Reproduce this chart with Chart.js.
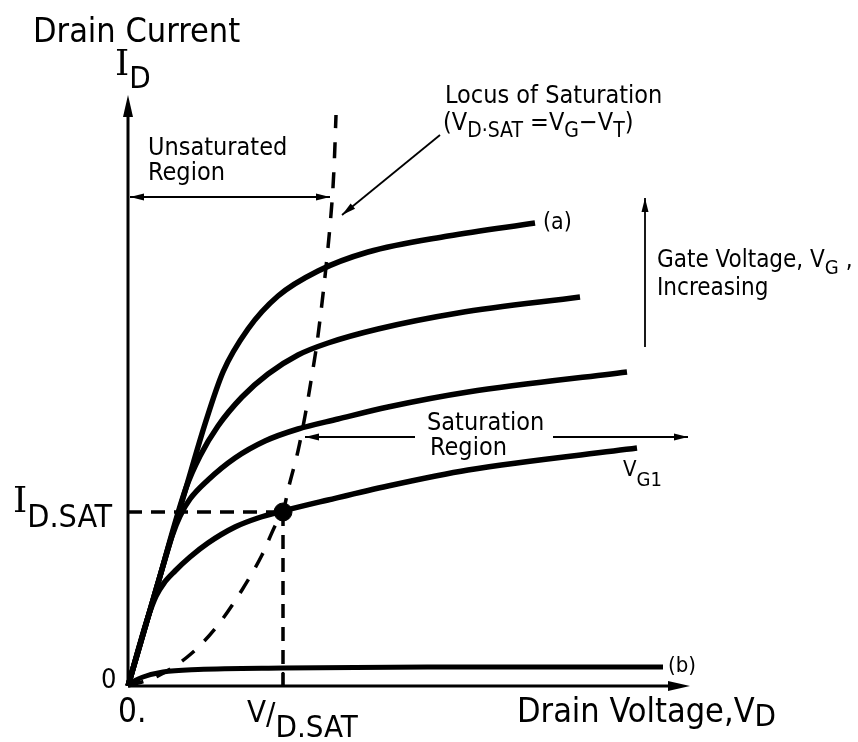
<!DOCTYPE html>
<html>
<head>
<meta charset="utf-8">
<script src="https://cdn.jsdelivr.net/npm/chart.js@4"></script>
<style>
  html, body { margin: 0; padding: 0; background: #fff; }
  canvas { display: block; }
</style>
</head>
<body>
<canvas id="chart" width="858" height="742"></canvas>
<script>
// values: x = drain voltage, y = drain current (arbitrary units)
const curveA   = [[0,0],[30,103],[58,198],[77,262],[95,314],[120,357],[150,390],[190,415],[240,434],[320,450],[407,463]];
const curve2   = [[0,0],[30,103],[58,198],[72,230],[90,260],[114,289],[140,312],[170,331],[200,343],[250,357],[330,373],[452,389]];
const curve3   = [[0,0],[30,103],[44,150],[52,170],[62,187],[80,206],[107,228],[137,245],[170,257],[210,267],[260,279],[340,294],[499,314]];
const curveVG1 = [[0,0],[20,69],[28,90],[36,103],[47,115],[62,129],[80,143],[107,159],[130,168],[155,175],[200,186],[260,200],[340,216],[509,238]];
const curveB   = [[0,2],[15,9],[35,14],[70,16.5],[155,18],[300,19],[535,19]];
const locus    = [[0,0],[30,10],[64,33],[90,61],[114,96],[134,131],[147,160],[155,174],[161,200],[170,235],[177,270],[183,305],[189,343],[194,383],[198,419],[202,460],[205,499],[206.5,529],[208,571]];
const satPoint = [155, 174];   // V_D.SAT, I_D.SAT

const xMax = 560, yMax = 590;

const FONT = "'DejaVu Sans Condensed', 'Liberation Sans Narrow', sans-serif";
const SERIF = "'DejaVu Serif', serif";

// text labels (data units, left / baseline)
const labels = [
  { x: -95, y: 644, size: 34, parts: [['Drain Current', 1, 0]] },
  { x: -13, y: 611, size: 36, parts: [['I', 1, 0, SERIF], ['D', 0.86, 0.36]] },
  { x: 20, y: 531, size: 25, parts: [['Unsaturated', 1, 0]] },
  { x: 20, y: 506, size: 25, parts: [['Region', 1, 0]] },
  { x: 317, y: 583, size: 24.5, parts: [['Locus of Saturation', 1, 0]] },
  { x: 315, y: 556, size: 24.5, parts: [['(V', 1, 0], ['D·SAT', 0.85, 0.3], [' =V', 1, 0], ['G', 0.85, 0.3], ['−V', 1, 0], ['T', 0.85, 0.3], [')', 1, 0]] },
  { x: 415, y: 457, size: 23, parts: [['(a)', 1, 0]] },
  { x: 529, y: 419, size: 24, parts: [['Gate Voltage, V', 1, 0], ['G', 0.85, 0.3], [' ,', 1, 0]] },
  { x: 529, y: 391, size: 24, parts: [['Increasing', 1, 0]] },
  { x: 299, y: 256, size: 24.5, parts: [['Saturation', 1, 0]] },
  { x: 302, y: 231, size: 24.5, parts: [['Region', 1, 0]] },
  { x: 495, y: 210, size: 22, parts: [['V', 1, 0], ['G1', 0.9, 0.45]] },
  { x: 540, y: 14, size: 22, parts: [['(b)', 1, 0]] },
  { x: 389, y: -36, size: 34, parts: [['Drain Voltage,V', 1, 0], ['D', 0.9, 0.12]] },
  { x: -27, y: -2, size: 27, parts: [['0', 1, 0]] },
  { x: -10, y: -36, size: 33, parts: [['0.', 1, 0]] },
  { x: -115, y: 174, size: 36, parts: [['I', 1, 0, SERIF], ['D.SAT', 0.9, 0.42]] },
  { x: 119, y: -36, size: 31, parts: [['V', 1, 0], ['/', 1, 0.08], ['D.SAT', 1, 0.48]] }
];

// arrows (data units): from -> to, heads at 'end' or 'both'
const arrows = [
  { from: [2, 489], to: [202, 489], heads: 'both' },
  { from: [312, 551], to: [214, 471], heads: 'end' },
  { from: [517, 339], to: [517, 488], heads: 'end' },
  { from: [287, 249], to: [177, 249], heads: 'end' },
  { from: [425, 249], to: [560, 249], heads: 'end' }
];

const toXY = arr => arr.map(p => ({ x: p[0], y: p[1] }));

const solid = (data) => ({
  data: toXY(data),
  borderColor: '#000',
  borderWidth: 5.5,
  pointRadius: 0,
  cubicInterpolationMode: 'monotone',
  clip: false
});

function arrowHead(ctx, x1, y1, x2, y2, len, half) {
  const a = Math.atan2(y2 - y1, x2 - x1);
  ctx.beginPath();
  ctx.moveTo(x2, y2);
  ctx.lineTo(x2 - len * Math.cos(a) + half * Math.sin(a), y2 - len * Math.sin(a) - half * Math.cos(a));
  ctx.lineTo(x2 - len * Math.cos(a) - half * Math.sin(a), y2 - len * Math.sin(a) + half * Math.cos(a));
  ctx.closePath();
  ctx.fill();
}

function drawParts(ctx, x, y, size, parts) {
  let cx = x;
  for (const [txt, k, dy, fam] of parts) {
    ctx.font = Math.round(size * k) + 'px ' + (fam || FONT);
    ctx.fillText(txt, cx, y + dy * size);
    cx += ctx.measureText(txt).width;
  }
}

const decorations = {
  id: 'decorations',
  afterDatasetsDraw(chart) {
    const { ctx, scales: { x, y } } = chart;
    const px = v => x.getPixelForValue(v);
    const py = v => y.getPixelForValue(v);
    ctx.save();
    ctx.fillStyle = '#000';
    ctx.strokeStyle = '#000';

    // axes
    ctx.lineWidth = 3;
    ctx.beginPath();
    ctx.moveTo(px(0), py(0));
    ctx.lineTo(px(xMax) - 10, py(0));
    ctx.moveTo(px(0), py(0));
    ctx.lineTo(px(0), py(yMax) + 10);
    ctx.stroke();
    arrowHead(ctx, px(0), py(0), px(xMax + 2), py(0), 22, 5);
    arrowHead(ctx, px(0), py(0), px(0), py(yMax + 1), 22, 5);

    // small tick at V_D.SAT
    ctx.lineWidth = 2.5;
    ctx.beginPath();
    ctx.moveTo(px(satPoint[0]), py(0));
    ctx.lineTo(px(satPoint[0]), py(0) - 14);
    ctx.stroke();

    // annotation arrows
    ctx.lineWidth = 1.8;
    for (const a of arrows) {
      const x1 = px(a.from[0]), y1 = py(a.from[1]);
      const x2 = px(a.to[0]), y2 = py(a.to[1]);
      ctx.beginPath();
      ctx.moveTo(x1, y1);
      ctx.lineTo(x2, y2);
      ctx.stroke();
      arrowHead(ctx, x1, y1, x2, y2, 14, 3.5);
      if (a.heads === 'both') arrowHead(ctx, x2, y2, x1, y1, 14, 3.5);
    }

    // labels
    ctx.textBaseline = 'alphabetic';
    ctx.textAlign = 'left';
    for (const l of labels) drawParts(ctx, px(l.x), py(l.y), l.size, l.parts);
    ctx.restore();
  }
};

new Chart(document.getElementById('chart'), {
  type: 'line',
  data: {
    datasets: [
      solid(curveA),
      solid(curve2),
      solid(curve3),
      solid(curveVG1),
      Object.assign(solid(curveB), { borderWidth: 5 }),
      {
        data: toXY(locus),
        borderColor: '#000',
        borderWidth: 3.5,
        borderDash: [16, 14],
        pointRadius: 0,
        cubicInterpolationMode: 'monotone',
        clip: false
      },
      {
        data: toXY([[0, satPoint[1]], satPoint]),
        borderColor: '#000',
        borderWidth: 3.5,
        borderDash: [14, 9],
        pointRadius: 0,
        clip: false
      },
      {
        data: toXY([satPoint, [satPoint[0], 0]]),
        borderColor: '#000',
        borderWidth: 3.5,
        borderDash: [14, 9],
        pointRadius: 0,
        clip: false
      },
      {
        type: 'scatter',
        data: toXY([satPoint]),
        backgroundColor: '#000',
        borderColor: '#000',
        pointRadius: 9,
        clip: false
      }
    ]
  },
  options: {
    responsive: false,
    animation: false,
    layout: { padding: { left: 128, right: 170, top: 96, bottom: 56 } },
    scales: {
      x: { type: 'linear', min: 0, max: xMax, display: false },
      y: { type: 'linear', min: 0, max: yMax, display: false }
    },
    plugins: { legend: { display: false }, tooltip: { enabled: false } }
  },
  plugins: [decorations]
});
</script>
</body>
</html>
